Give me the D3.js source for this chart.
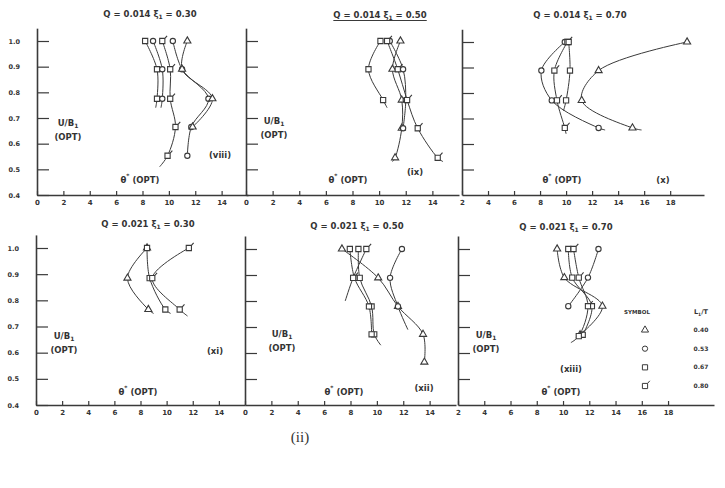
<!DOCTYPE html>
<html><head><meta charset="utf-8">
<script src="https://cdn.jsdelivr.net/npm/d3@7"></script>
<style>
html,body{margin:0;padding:0;background:#fff;}
svg{display:block;}
text{font-family:"DejaVu Sans",sans-serif;fill:#333;}
</style></head>
<body><svg id="c" width="725" height="488"></svg>
<script>
// ---------- DATA (theta*, U/B1) ----------
const symbolKeys = ["triangle","circle","square","flag"];
const ltValues = ["0.40","0.53","0.67","0.80"];
const xTicksA = [0,2,4,6,8,10,12,14];
const xTicksB = [2,4,6,8,10,12,14,16,18];
const yTicks = [0.4,0.5,0.6,0.7,0.8,0.9,1.0];
const yTickLabels = ["0.4","0.5","0.6","0.7","0.8","0.9","1.0"];

// Q=0.014, xi=0.30 (viii)
const viii = [
  {s:"square",   pts:[[8.2,1.0],[9.1,0.89],[9.1,0.775]], tail:[9.0,0.74]},
  {s:"circle",   pts:[[8.8,1.0],[9.5,0.89],[9.5,0.775]], tail:[9.4,0.74]},
  {s:"flag",     pts:[[9.5,1.0],[10.1,0.89],[10.1,0.775],[10.5,0.665],[9.9,0.553]], tail:[9.3,0.51]},
  {s:"circle",   pts:[[10.3,1.0],[11.0,0.89],[13.0,0.775],[11.7,0.665],[11.4,0.553]]},
  {s:"triangle", pts:[[11.4,1.0],[11.0,0.89],[13.3,0.775],[11.8,0.665]]}
];
// Q=0.014, xi=0.50 (ix)
const ix = [
  {s:"square",   pts:[[10.1,1.0],[9.2,0.89],[10.3,0.77]], tail:[10.6,0.74]},
  {s:"triangle", pts:[[11.6,1.0],[11.0,0.89],[11.7,0.77],[11.7,0.66],[11.2,0.545]], tail:[11.0,0.53]},
  {s:"circle",   pts:[[10.8,1.0],[11.8,0.89],[12.0,0.77],[11.8,0.66]]},
  {s:"flag",     pts:[[10.6,1.0],[11.4,0.89],[12.1,0.77],[12.9,0.66],[14.4,0.545]], tail:[14.8,0.53]}
];
// Q=0.014, xi=0.70 (x)
const x10 = [
  {s:"circle",   pts:[[9.9,1.0],[8.1,0.888],[8.9,0.771],[12.5,0.663]], tail:[13.0,0.655]},
  {s:"flag",     pts:[[10.1,1.0],[9.1,0.888],[9.3,0.771],[9.9,0.663]], tail:[10.0,0.64]},
  {s:"square",   pts:[[10.2,1.0],[10.3,0.888],[10.0,0.771]], tail:[9.8,0.73]},
  {s:"triangle", pts:[[19.3,1.0],[12.5,0.888],[11.2,0.771],[15.1,0.663]], tail:[15.8,0.655]}
];
// Q=0.021, xi=0.30 (xi)
const xi = [
  {s:"triangle", pts:[[8.5,1.0],[7.0,0.885],[8.6,0.765]], tail:[9.0,0.75]},
  {s:"square",   pts:[[8.5,1.0],[8.7,0.885],[9.9,0.765]], tail:[10.3,0.75]},
  {s:"flag",     pts:[[11.7,1.0],[8.9,0.885],[11.0,0.765]], tail:[11.6,0.74]}
];
// Q=0.021, xi=0.50 (xii)
const xii = [
  {s:"triangle", pts:[[7.35,1.0],[10.1,0.889],[11.6,0.779],[13.5,0.672],[13.6,0.565]]},
  {s:"circle",   pts:[[11.9,1.0],[11.0,0.889],[11.6,0.779]], tail:[12.35,0.69]},
  {s:"square",   pts:[[8.6,1.0],[8.7,0.889],[9.6,0.779],[9.8,0.672]], tail:[10.3,0.63]},
  {s:"square",   pts:[[7.95,1.0],[8.3,0.889],[9.4,0.779],[9.6,0.672]]},
  {s:"flag",     pts:[[9.2,1.0],[8.2,0.889]], tail:[7.6,0.80]}
];
// Q=0.021, xi=0.70 (xiii)
const xiii = [
  {s:"triangle", pts:[[9.55,1.0],[10.1,0.89],[13.0,0.78],[11.3,0.67]]},
  {s:"circle",   pts:[[12.7,1.0],[11.9,0.89],[10.4,0.78]]},
  {s:"square",   pts:[[10.4,1.0],[10.7,0.89],[12.2,0.78],[11.5,0.67]]},
  {s:"flag",     pts:[[10.8,1.0],[11.2,0.89],[11.9,0.78],[11.2,0.665]], tail:[10.6,0.64]}
];

// ---------- LAYOUT ----------
const panels = [
  {data:viii, title:"Q = 0.014  ξ", sub:"1", tval:" = 0.30", tx:150, ty:17, ticks:xTicksA,
   xd:[0,16], xr:[37,248], yr:[195,41], ylab:true, ub:[68,126], th:[140,183], roman:"(viii)", rp:[220,158]},
  {data:ix, title:"Q = 0.014  ξ", sub:"1", tval:" = 0.50", tx:380, ty:18, ticks:xTicksA, underline:true,
   xd:[0,16], xr:[246,459], yr:[195,41], ylab:false, ub:[274,124], th:[348,183], roman:"(ix)", rp:[415,175]},
  {data:x10, title:"Q = 0.014  ξ", sub:"1", tval:" = 0.70", tx:580, ty:18, ticks:xTicksB,
   xd:[2,20.6], xr:[462,704], yr:[195,42], ylab:false, ub:null, th:[562,183], roman:"(x)", rp:[663,183]},
  {data:xi, title:"Q = 0.021  ξ", sub:"1", tval:" = 0.30", tx:148, ty:227, ticks:xTicksA,
   xd:[0,16], xr:[36,245], yr:[405,248], ylab:true, ub:[64,339], th:[138,395], roman:"(xi)", rp:[215,354]},
  {data:xii, title:"Q = 0.021  ξ", sub:"1", tval:" = 0.50", tx:357, ty:229, ticks:xTicksA,
   xd:[0,16], xr:[245,456], yr:[405,249], ylab:false, ub:[282,337], th:[344,395], roman:"(xii)", rp:[424,391]},
  {data:xiii, title:"Q = 0.021  ξ", sub:"1", tval:" = 0.70", tx:566, ty:230, ticks:xTicksB,
   xd:[2,21.5], xr:[458,714], yr:[405,249], ylab:false, ub:[486,338], th:[561,395], roman:"(xiii)", rp:[571,372]}
];

const svg = d3.select("#c");
const ink = "#3a3a3a";

function symPath(s){
  if(s==="flag"){
    const h=2.6;
    return `M${-h},${-h}L${h},${-h}L${h},${h}L${-h},${h}Z M${h},${-h}L${h+2.2},${-h-2.6}`;
  }
  const t = {triangle:d3.symbolTriangle, circle:d3.symbolCircle, square:d3.symbolSquare}[s];
  const size = {triangle:22, circle:22, square:27}[s];
  return d3.symbol(t, size)();
}

panels.forEach(p=>{
  const g = svg.append("g");
  const x = d3.scaleLinear().domain(p.xd).range(p.xr);
  const y0 = d3.scaleLinear().domain([0.4,1.0]).range(p.yr);
  const y = d3.scaleLinear().domain([0.4,1.05]).range([p.yr[0], y0(1.05)]);

  // x axis
  const xa = g.append("g").attr("transform",`translate(0,${p.yr[0]})`)
    .call(d3.axisBottom(x).tickValues(p.ticks).tickSizeInner(-4).tickSizeOuter(0).tickPadding(5)
      .tickFormat(d=>String(d)));
  xa.select(".domain").attr("stroke",ink).attr("stroke-width",1.6);
  xa.selectAll(".tick line").attr("stroke",ink).attr("stroke-width",1.2);
  xa.selectAll(".tick text").attr("font-size",7).attr("font-weight","bold").attr("fill","#333");

  // y axis
  const ya = g.append("g").attr("transform",`translate(${p.xr[0]},0)`)
    .call(d3.axisLeft(y).tickValues(yTicks.filter(v=>p.ylab||v>0.45)).tickSizeInner(-12).tickSizeOuter(0).tickPadding(17)
      .tickFormat((d)=>p.ylab ? yTickLabels[yTicks.indexOf(d)] : ""));
  ya.select(".domain").attr("stroke",ink).attr("stroke-width",1.6);
  ya.selectAll(".tick line").attr("stroke",ink).attr("stroke-width",1.2);
  ya.selectAll(".tick text").attr("font-size",6.5).attr("font-weight","bold").attr("fill","#333");

  // title
  const t = g.append("text").attr("x",p.tx).attr("y",p.ty).attr("text-anchor","middle")
    .attr("font-size",8.5).attr("font-weight","bold");
  t.append("tspan").text(p.title);
  t.append("tspan").attr("font-size",6).attr("dy",2).text(p.sub);
  t.append("tspan").attr("dy",-2).text(p.tval);
  if(p.underline){
    const bb = t.node().getBBox();
    g.append("line").attr("x1",bb.x).attr("x2",bb.x+bb.width).attr("y1",p.ty+2.5).attr("y2",p.ty+2.5)
      .attr("stroke",ink).attr("stroke-width",1);
  }

  // U/B1 label
  if(p.ub){
    const u = g.append("text").attr("x",p.ub[0]).attr("y",p.ub[1]).attr("text-anchor","middle")
      .attr("font-size",8.5).attr("font-weight","bold");
    u.append("tspan").text("U/B");
    u.append("tspan").attr("font-size",6).attr("dy",2).text("1");
    g.append("text").attr("x",p.ub[0]).attr("y",p.ub[1]+14).attr("text-anchor","middle")
      .attr("font-size",8.5).attr("font-weight","bold").text("(OPT)");
  }
  // theta* label
  const th = g.append("text").attr("x",p.th[0]).attr("y",p.th[1]).attr("text-anchor","middle")
    .attr("font-size",8.5).attr("font-weight","bold");
  th.append("tspan").text("θ");
  th.append("tspan").attr("font-size",6).attr("dy",-5).text("*");
  th.append("tspan").attr("dy",5).text(" (OPT)");
  // roman numeral
  g.append("text").attr("x",p.rp[0]).attr("y",p.rp[1]).attr("text-anchor","middle")
    .attr("font-size",8.5).attr("font-weight","bold").text(p.roman);

  // series
  const line = d3.line().x(d=>x(d[0])).y(d=>y(d[1])).curve(d3.curveCatmullRom.alpha(0.5));
  p.data.forEach(sr=>{
    const pts = sr.tail ? sr.pts.concat([sr.tail]) : sr.pts;
    g.append("path").attr("d",line(pts)).attr("fill","none").attr("stroke",ink).attr("stroke-width",1);
    g.selectAll(null).data(sr.pts).enter().append("path")
      .attr("d",symPath(sr.s))
      .attr("transform",d=>`translate(${x(d[0])},${y(d[1])})`)
      .attr("fill","#fff").attr("stroke",ink).attr("stroke-width",1.1);
  });
});

// legend (panel xiii)
const lg = svg.append("g");
lg.append("text").attr("x",637).attr("y",314).attr("text-anchor","middle").attr("font-size",5.5).attr("font-weight","bold").text("SYMBOL");
const lt = lg.append("text").attr("x",701).attr("y",314).attr("text-anchor","middle").attr("font-size",6.5).attr("font-weight","bold");
lt.append("tspan").text("L");
lt.append("tspan").attr("font-size",4.5).attr("dy",1.5).text("1");
lt.append("tspan").attr("dy",-1.5).text("/T");
const rowY = d3.scalePoint().domain(symbolKeys).range([332,388]);
symbolKeys.forEach((k,i)=>{
  lg.append("path").attr("d",symPath(k)).attr("transform",`translate(645,${rowY(k)-2})`)
    .attr("fill","#fff").attr("stroke",ink).attr("stroke-width",1);
  lg.append("text").attr("x",701).attr("y",rowY(k)).attr("text-anchor","middle")
    .attr("font-size",6).attr("font-weight","bold").text(ltValues[i]);
});

// caption
svg.append("text").attr("x",300).attr("y",442).attr("text-anchor","middle")
  .style("font-family","'Liberation Serif',serif").attr("font-size",15).attr("fill","#222").text("(ii)");
</script>
</body></html>
